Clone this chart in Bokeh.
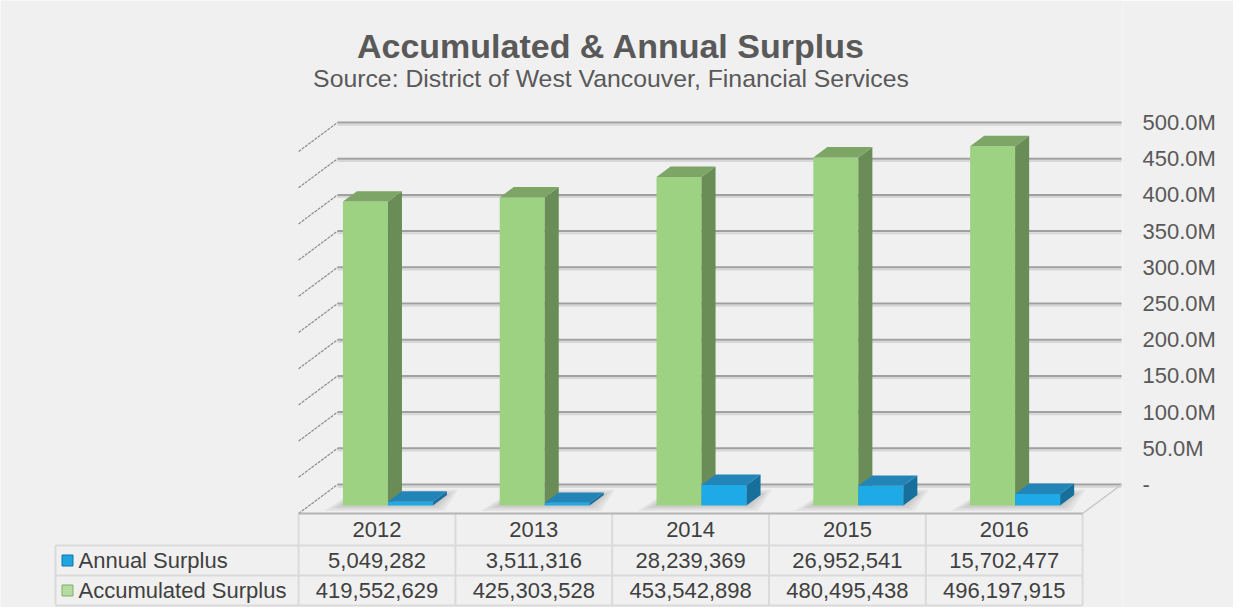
import numpy as np
from bokeh.plotting import figure
from bokeh.models import Range1d, FixedTicker, CustomJSTickFormatter
from bokeh.core.properties import value
from bokeh.embed import file_html
from bokeh.resources import INLINE

# ---------------- data ----------------
years = ["2012", "2013", "2014", "2015", "2016"]
annual_surplus = [5049282, 3511316, 28239369, 26952541, 15702477]
accumulated_surplus = [419552629, 425303528, 453542898, 480495438, 496197915]
series_names = ["Annual Surplus", "Accumulated Surplus"]
y_ticks = [0, 50e6, 100e6, 150e6, 200e6, 250e6, 300e6, 350e6, 400e6, 450e6, 500e6]
title_text = "Accumulated & Annual Surplus"
subtitle_text = "Source: District of West Vancouver, Financial Services"

# ---------------- layout (pixel geometry) ----------------
W, H = 1233, 607
ORIGIN = 0
RIGHT_PANEL = 111
CAT_PX = 156.8          # width of one category, px
CAT0_PX = 376.5         # x of first category centre (front of floor)
ZERO_PX = 484.0         # y of value 0 on the back wall
PX_PER_VAL = 362.0 / 500e6

def X(px):
    return (px - CAT0_PX) / CAT_PX

def Y(py):
    return (ZERO_PX - py) / PX_PER_VAL

DX = 39.0 / CAT_PX           # depth offset (x units)
DY = 29.0 / PX_PER_VAL       # depth offset (value units)
D0, D1 = 0.28, 0.64          # bar depth span (0 = front, 1 = back)
BAR_W = 45.0 / CAT_PX

FONT = value("Liberation Sans")
BG = "#f0f0f0"

p = figure(width=W, height=H, output_backend="svg", toolbar_location=None,
           x_range=Range1d(X(ORIGIN), X(ORIGIN + W - RIGHT_PANEL)),
           y_range=Range1d(Y(ORIGIN + H), Y(ORIGIN)),
           x_axis_location=None, y_axis_location="right",
           min_border_left=0, min_border_top=0, min_border_bottom=0,
           min_border_right=RIGHT_PANEL)
p.background_fill_color = BG
p.border_fill_color = BG
p.outline_line_color = None
p.grid.visible = False

ax = p.yaxis[0]
ax.ticker = FixedTicker(ticks=y_ticks)
ax.formatter = CustomJSTickFormatter(
    code="return tick == 0 ? '-' : (tick / 1e6).toFixed(1) + 'M';")
ax.axis_line_color = None
ax.major_tick_line_color = None
ax.minor_tick_line_color = None
ax.major_label_standoff = 14
ax.major_label_text_font = "Liberation Sans"
ax.major_label_text_font_size = "22px"
ax.major_label_text_color = "#595959"

n = len(years)
idx = np.arange(n, dtype=float)
left_edge, right_edge = -0.5, n - 0.5
ticks = np.array(y_ticks)

# back wall gridlines (shadow + line)
p.segment(x0=left_edge + DX, x1=right_edge + DX, y0=ticks - 2.2 / PX_PER_VAL,
          y1=ticks - 2.2 / PX_PER_VAL, line_color="#d6d6d6", line_width=2)
p.segment(x0=left_edge + DX, x1=right_edge + DX, y0=ticks, y1=ticks,
          line_color="#a0a0a0", line_width=2)
# side wall diagonals
p.segment(x0=left_edge, y0=ticks - DY, x1=left_edge + DX, y1=ticks,
          line_color="#8c8c8c", line_width=1.2, line_dash="3 1")
# floor right edge
p.segment(x0=[right_edge], y0=[-DY], x1=[right_edge + DX], y1=[0],
          line_color="#c8c8c8", line_width=1.5)


def face_geom(off0, off1, vals):
    vals = np.array(vals, dtype=float)
    x0 = idx + off0
    x1 = idx + off1
    yb0 = -(1 - D0) * DY
    yb1 = -(1 - D1) * DY
    front = dict(left=x0 + D0 * DX, right=x1 + D0 * DX,
                 bottom=np.full(n, yb0), top=vals + yb0)
    side_xs = [[a + D0 * DX, a + D1 * DX, a + D1 * DX, a + D0 * DX] for a in x1]
    side_ys = [[yb0, yb1, v + yb1, v + yb0] for v in vals]
    top_xs = [[a + D0 * DX, b + D0 * DX, b + D1 * DX, a + D1 * DX] for a, b in zip(x0, x1)]
    top_ys = [[v + yb0, v + yb0, v + yb1, v + yb1] for v in vals]
    return front, (side_xs, side_ys), (top_xs, top_ys)

# floor shadows around bar bases
for k, a in enumerate([0.05, 0.05, 0.05, 0.05]):
    e = (4 + 5 * k) / CAT_PX
    ev = (1 + 1.5 * k) / PX_PER_VAL
    xs, ys = [], []
    for i in idx:
        xa = i - BAR_W + D0 * DX - e
        xb = i + BAR_W + D1 * DX + e * 0.6
        yf = -(1 - D0) * DY - ev
        yk = -(1 - D1) * DY + ev
        xs.append([xa, xb - (D1 - D0) * DX, xb, xa + (D1 - D0) * DX + e])
        ys.append([yf, yf, yk, yk])
    p.patches(xs=xs, ys=ys, fill_color="#303030", fill_alpha=a, line_color=None)

styles = [
    # series, offsets, front, side, top
    (accumulated_surplus, -BAR_W, 0.0, "#9dd283", "#6a8c56", "#7da566"),
    (annual_surplus, 0.0, BAR_W, "#1eaae6", "#176f9c", "#2384b8"),
]
for vals, o0, o1, cf, cs, ct in styles:
    front, side, top = face_geom(o0, o1, vals)
    p.quad(**front, fill_color=cf, line_color=None)
    p.patches(xs=side[0], ys=side[1], fill_color=cs, line_color=None)
    p.patches(xs=top[0], ys=top[1], fill_color=ct, line_color=None)

# ---------------- data table ----------------
row_lines_py = [513, 545, 575, 605]
rb = [Y(v) for v in row_lines_py]
leg_left = X(55)
TABLE_LINE = "#dadada"
# horizontal lines
p.segment(x0=[leg_left] * 3, x1=[right_edge] * 3, y0=rb[1:], y1=rb[1:],
          line_color=TABLE_LINE, line_width=2)
# verticals
cols = np.arange(n + 1) - 0.5
p.segment(x0=cols, x1=cols, y0=[rb[0]] * (n + 1), y1=[rb[3]] * (n + 1),
          line_color=TABLE_LINE, line_width=2)
p.segment(x0=[leg_left], x1=[leg_left], y0=[rb[1]], y1=[rb[3]],
          line_color=TABLE_LINE, line_width=2)
# floor front edge / table top
p.segment(x0=[left_edge], x1=[right_edge], y0=[-DY], y1=[-DY],
          line_color="#b4b4b4", line_width=2)

mid = [(rb[0] + rb[1]) / 2, (rb[1] + rb[2]) / 2, (rb[2] + rb[3]) / 2]
TXT = "#404040"
p.text(x=idx, y=[mid[0]] * n, text=years, text_font=FONT, text_font_size="22px",
       text_color=TXT, text_align="center", text_baseline="middle")
p.text(x=idx, y=[mid[1]] * n, text=[f"{v:,}" for v in annual_surplus], text_font=FONT,
       text_font_size="22px", text_color=TXT, text_align="center", text_baseline="middle")
p.text(x=idx, y=[mid[2]] * n, text=[f"{v:,}" for v in accumulated_surplus], text_font=FONT,
       text_font_size="22px", text_color=TXT, text_align="center", text_baseline="middle")
p.text(x=[X(78)] * 2, y=[mid[1], mid[2]], text=series_names, text_font=FONT,
       text_font_size="22px", text_color=TXT, text_align="left", text_baseline="middle")
# legend keys
p.scatter(x=[X(67)], y=[mid[1]], marker="square", size=11, fill_color="#1ea6e2",
          line_color="#1673a3", line_width=1)
p.scatter(x=[X(67)], y=[mid[2]], marker="square", size=11, fill_color="#b7dca2",
          line_color="#7fae66", line_width=1)

# ---------------- titles ----------------
p.text(x=[X(610.5)], y=[Y(45)], text=[title_text], text_font=FONT, text_font_size="34px",
       text_font_style="bold", text_color="#595959", text_align="center",
       text_baseline="middle")
p.text(x=[X(610.5)], y=[Y(78)], text=[subtitle_text], text_font=FONT, text_font_size="24.8px",
       text_color="#595959", text_align="center", text_baseline="middle")

open("out.html", "w").write(file_html(p, INLINE))
